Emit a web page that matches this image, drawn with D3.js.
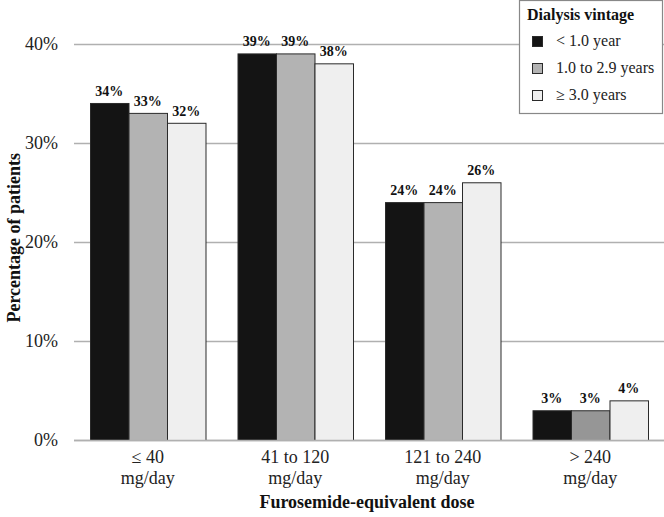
<!DOCTYPE html>
<html>
<head>
<meta charset="utf-8">
<script src="https://cdn.jsdelivr.net/npm/d3@7"></script>
<style>
  html, body { margin: 0; padding: 0; background: #fff; }
  svg { display: block; font-family: "Liberation Serif", "Times New Roman", serif; }
</style>
</head>
<body>
<svg id="chart" width="664" height="517"></svg>
<script>
// ---- data ----
const categories = [["\u2264 40", "mg/day"], ["41 to 120", "mg/day"], ["121 to 240", "mg/day"], ["> 240", "mg/day"]];
const seriesNames = ["< 1.0 year", "1.0 to 2.9 years", "\u2265 3.0 years"];
const lessThan1 = [34, 39, 24, 3];
const oneTo29 = [33, 39, 24, 3];
const atLeast3 = [32, 38, 26, 4];
const yTicks = [0, 10, 20, 30, 40];
const legendTitle = "Dialysis vintage";
const xTitle = "Furosemide-equivalent dose";
const yTitle = "Percentage of patients";

// ---- styles ----
const seriesColors = ["#141414", "#b3b3b3", "#efefef"];
const overrideColor = { "3-1": "#969696" }; // darker grey bar in last group
const seriesValues = [lessThan1, oneTo29, atLeast3];

const svg = d3.select("#chart");
const pLeft = 74, pRight = 664, pTop = 43.5, pBottom = 440;

const x0 = d3.scaleBand().domain(d3.range(categories.length))
  .range([pLeft, pRight]).paddingInner(0.217).paddingOuter(0.1085);
const x1 = d3.scaleBand().domain(d3.range(seriesNames.length))
  .range([0, x0.bandwidth()]).padding(0);
const y = d3.scaleLinear().domain([0, 40]).range([pBottom, pTop]);

// gridlines
svg.append("g").selectAll("line").data(yTicks).join("line")
  .attr("x1", pLeft).attr("x2", pRight)
  .attr("y1", d => Math.round(y(d)) + 0.5).attr("y2", d => Math.round(y(d)) + 0.5)
  .attr("stroke", "#b0b0b0").attr("stroke-width", 1.3);

// y tick labels
svg.append("g").selectAll("text").data(yTicks).join("text")
  .attr("x", 58).attr("y", d => y(d)).attr("dy", "0.36em")
  .attr("text-anchor", "end").attr("font-size", 18).attr("fill", "#222")
  .text(d => d + "%");

// bars
const groups = svg.append("g").selectAll("g").data(categories).join("g")
  .attr("transform", (d, i) => `translate(${x0(i)},0)`);

groups.each(function(cat, ci) {
  const g = d3.select(this);
  const vals = seriesValues.map((s, si) => ({ si, v: s[ci] }));
  g.selectAll("rect").data(vals).join("rect")
    .attr("x", d => x1(d.si) + 0.5)
    .attr("y", d => y(d.v) + 0.5)
    .attr("width", x1.bandwidth())
    .attr("height", d => pBottom - y(d.v))
    .attr("fill", d => overrideColor[ci + "-" + d.si] || seriesColors[d.si])
    .attr("stroke", "#2a2a2a").attr("stroke-width", 1);
  g.selectAll("text.val").data(vals).join("text").attr("class", "val")
    .attr("x", d => x1(d.si) + x1.bandwidth() / 2)
    .attr("y", d => y(d.v) - 7)
    .attr("text-anchor", "middle").attr("font-size", 14).attr("font-weight", "bold")
    .attr("fill", "#111")
    .text(d => d.v + "%");
});

// baseline redraw over bars
svg.append("line").attr("x1", pLeft).attr("x2", pRight)
  .attr("y1", Math.round(y(0)) + 0.5).attr("y2", Math.round(y(0)) + 0.5)
  .attr("stroke", "#b0b0b0").attr("stroke-width", 1.3);

// category labels
const cl = svg.append("g").selectAll("text").data(categories).join("text")
  .attr("x", (d, i) => x0(i) + x0.bandwidth() / 2)
  .attr("text-anchor", "middle").attr("font-size", 18).attr("fill", "#222");
cl.append("tspan").attr("x", (d, i) => x0(i) + x0.bandwidth() / 2).attr("y", 463).text(d => d[0]);
cl.append("tspan").attr("x", (d, i) => x0(i) + x0.bandwidth() / 2).attr("y", 484).text(d => d[1]);

// axis titles
svg.append("text").attr("x", (pLeft + pRight) / 2 - 2).attr("y", 508)
  .attr("text-anchor", "middle").attr("font-size", 18).attr("font-weight", "bold")
  .attr("fill", "#111").text(xTitle);
svg.append("text").attr("transform", `translate(20,${(pTop + pBottom) / 2 - 4}) rotate(-90)`)
  .attr("text-anchor", "middle").attr("font-size", 18).attr("font-weight", "bold")
  .attr("fill", "#111").text(yTitle);

// legend
const lg = svg.append("g");
lg.append("rect").attr("x", 519.5).attr("y", 0.5).attr("width", 143).attr("height", 113)
  .attr("fill", "#fff").attr("stroke", "#888").attr("stroke-width", 1.2);
lg.append("text").attr("x", 527).attr("y", 20).attr("font-size", 16).attr("font-weight", "bold")
  .attr("fill", "#111").text(legendTitle);
const li = lg.selectAll("g.item").data(seriesNames).join("g").attr("class", "item")
  .attr("transform", (d, i) => `translate(0,${41 + i * 27})`);
li.append("rect").attr("x", 532.5).attr("y", -4.5).attr("width", 10).attr("height", 10)
  .attr("fill", (d, i) => seriesColors[i]).attr("stroke", "#2a2a2a").attr("stroke-width", 1);
li.append("text").attr("x", 556).attr("y", 5).attr("font-size", 16).attr("fill", "#222").text(d => d);
</script>
</body>
</html>
